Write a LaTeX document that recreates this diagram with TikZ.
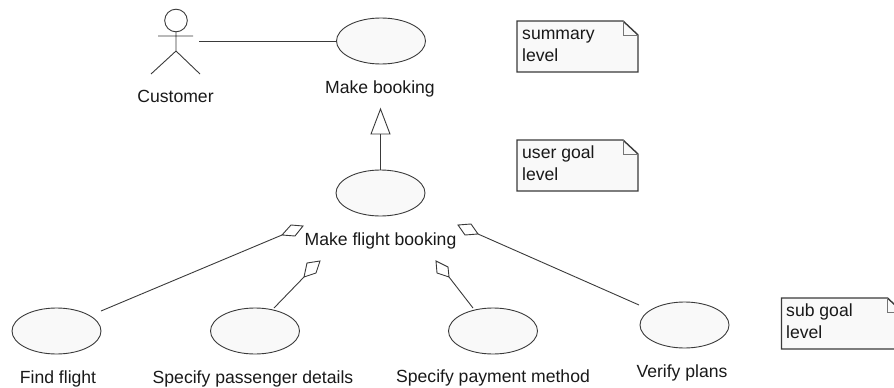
\documentclass[tikz,border=0pt]{standalone}
\usepackage{fontspec}
\setmainfont{Liberation Sans}
\definecolor{ln}{HTML}{3A3A3A}
\definecolor{pap}{HTML}{F9F9F9}
\tikzset{
  usecase/.style={draw=ln,fill=pap,ellipse,line width=0.9pt,minimum width=89pt,minimum height=46pt,inner sep=0pt},
  lbl/.style={inner sep=0pt,anchor=base,text=black!90,font=\fontsize{17.6}{22}\selectfont},
  notetext/.style={inner sep=0pt,anchor=base west,align=left,text=black!90,font=\fontsize{17.6}{22}\selectfont},
  conn/.style={draw=ln,line width=0.9pt},
  notebox/.style={draw=ln,fill=pap,line width=1.4pt,line join=miter},
  fold/.style={draw=ln!70,line width=1pt},
  hollow/.style={draw=ln,fill=white,line width=0.9pt,line join=miter}
}
\usetikzlibrary{shapes.geometric}
\newcommand{\notefig}[2]{%
  \path[notebox] (#1,#2) -- ++(106,0) -- ++(15,14) -- ++(0,37) -- ++(-121,0) -- cycle;
  \draw[fold] (#1+106,#2) -- ++(0,14) -- ++(15,0);
}
\begin{document}
\begin{tikzpicture}[x=1pt,y=-1pt]
\useasboundingbox (0,0) rectangle (894,388);
\clip (0,0) rectangle (894,388);
% use cases
\node[usecase] (mb) at (381,41) {};
\node[usecase] (mfb) at (380.5,193) {};
\node[usecase] (ff) at (56.5,331) {};
\node[usecase] (spd) at (255,331) {};
\node[usecase] (spm) at (493,331) {};
\node[usecase] (vp) at (684.5,325) {};
% labels
\node[lbl] (lmb) at (380,93) {Make booking};
\node[lbl] (lmfb) at (380.5,245) {Make flight booking};
\node[lbl] (lff) at (58,383) {Find flight};
\node[lbl] (lspd) at (253,383) {Specify passenger details};
\node[lbl] (lspm) at (493,382) {Specify payment method};
\node[lbl] (lvp) at (682,377) {Verify plans};
\node[lbl] (lc) at (175.5,102) {Customer};
% actor
\draw[conn] (176,20.5) circle (11.3);
\draw[conn] (176,32) -- (176,51) (158,36) -- (193,36) (151,74) -- (176,51) -- (200,74);
% association
\coordinate (actorend) at (199,41);
\draw[conn] (actorend) -- (mb.west);
% generalization
\coordinate (genbase) at (380.5,134);
\draw[hollow] (380.5,109) -- (371,134) -- (390,134) -- cycle;
\draw[conn] (mfb.north) -- (genbase);
% aggregations
\coordinate (a1) at (282,235);
\coordinate (a2) at (304,277);
\coordinate (a3) at (449,277);
\coordinate (a4) at (478,234);
\coordinate (s1) at (101,311);
\coordinate (s2) at (274,308);
\coordinate (s3) at (473,308);
\coordinate (s4) at (639,305);
\draw[conn] (s1) -- (a1);
\draw[conn] (s2) -- (a2);
\draw[conn] (s3) -- (a3);
\draw[conn] (s4) -- (a4);
\draw[hollow] (a1) -- (291,225) -- (303,226) -- (295,236) -- cycle;
\draw[hollow] (a2) -- (307,263) -- (320,261) -- (316,273) -- cycle;
\draw[hollow] (a3) -- (448,267) -- (436,261) -- (437,273) -- cycle;
\draw[hollow] (a4) -- (471,224) -- (458,225) -- (465,235) -- cycle;
% notes
\notefig{517}{21}
\notefig{517}{140}
\notefig{781.5}{298}
\node[notetext] (n1) at (522,61) {summary\\level};
\node[notetext] (n2) at (522,180) {user goal\\level};
\node[notetext] (n3) at (786,338) {sub goal\\level};
\end{tikzpicture}
\end{document}
